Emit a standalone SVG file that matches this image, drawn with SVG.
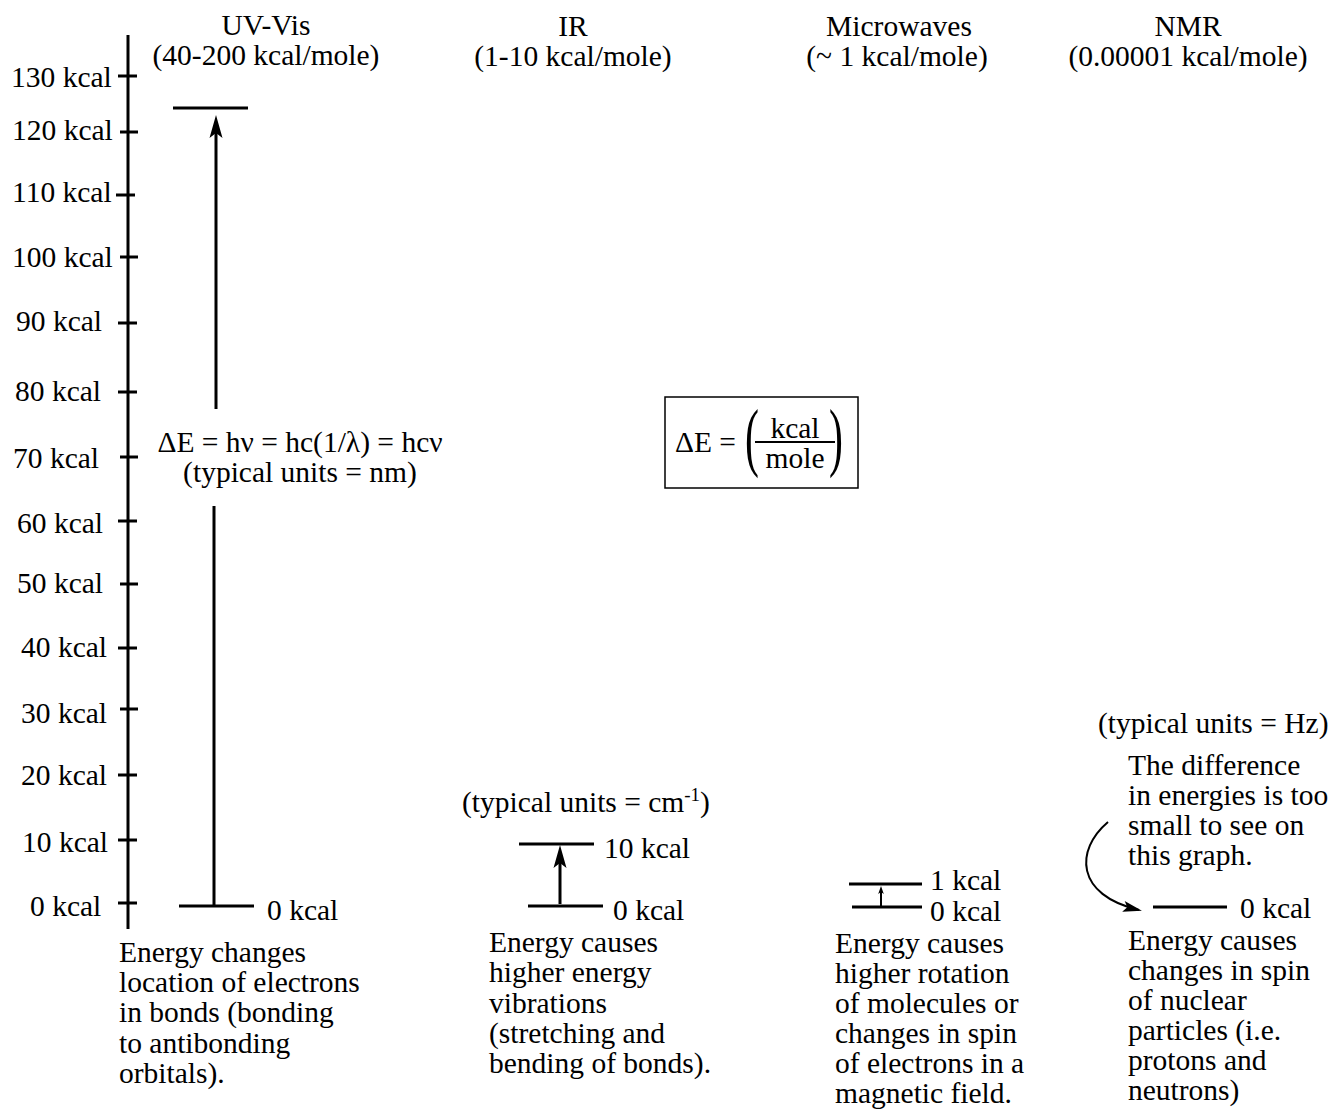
<svg xmlns="http://www.w3.org/2000/svg" width="1335" height="1114" viewBox="0 0 1335 1114">
<style>
text{font-family:"Liberation Serif","Times New Roman",serif;font-size:29.5px;fill:#000}
.m{text-anchor:middle}
.paren{font-size:76px}
.sup{font-size:19px}
.ln{stroke:#000;stroke-width:3;fill:none}
.tk{stroke:#000;stroke-width:3}
</style>
<defs>
<marker id="ah" markerUnits="userSpaceOnUse" viewBox="-24 -8 26 16" markerWidth="26" markerHeight="16" refX="-10" refY="0" orient="auto">
<path d="M0,0 L-23,-6.5 L-18,0 L-23,6.5 Z" fill="#000"/>
</marker>
<marker id="ahs" markerUnits="userSpaceOnUse" viewBox="-10 -4 12 8" markerWidth="12" markerHeight="8" refX="-3" refY="0" orient="auto">
<path d="M0,0 L-8,-2.8 L-6,0 L-8,2.8 Z" fill="#000"/>
</marker>
<marker id="ahc" markerUnits="userSpaceOnUse" viewBox="-20 -7 22 14" markerWidth="22" markerHeight="14" refX="-3" refY="0" orient="auto">
<path d="M0,0 L-19,-5.5 L-15,0 L-19,5.5 Z" fill="#000"/>
</marker>
</defs>

<g id="axis">
<line class="ln" x1="128" y1="35" x2="128" y2="929"/>
<line class="tk" x1="118" y1="76" x2="137" y2="76"/>
<line class="tk" x1="120" y1="132" x2="138" y2="132"/>
<line class="tk" x1="116" y1="195" x2="135" y2="195"/>
<line class="tk" x1="120" y1="257" x2="138" y2="257"/>
<line class="tk" x1="118" y1="323" x2="137" y2="323"/>
<line class="tk" x1="118" y1="392" x2="137" y2="392"/>
<line class="tk" x1="120" y1="457" x2="138" y2="457"/>
<line class="tk" x1="118" y1="521" x2="137" y2="521"/>
<line class="tk" x1="120" y1="584" x2="138" y2="584"/>
<line class="tk" x1="118" y1="648" x2="137" y2="648"/>
<line class="tk" x1="120" y1="709" x2="138" y2="709"/>
<line class="tk" x1="118" y1="775" x2="137" y2="775"/>
<line class="tk" x1="118" y1="840" x2="137" y2="840"/>
<line class="tk" x1="118" y1="903" x2="137" y2="903"/>
<text x="11" y="87">130 kcal</text>
<text x="12" y="140">120 kcal</text>
<text x="12" y="202">110 kcal</text>
<text x="12" y="267">100 kcal</text>
<text x="16" y="331">90 kcal</text>
<text x="15" y="401">80 kcal</text>
<text x="13" y="468">70 kcal</text>
<text x="17" y="533">60 kcal</text>
<text x="17" y="593">50 kcal</text>
<text x="21" y="657">40 kcal</text>
<text x="21" y="723">30 kcal</text>
<text x="21" y="785">20 kcal</text>
<text x="22" y="852">10 kcal</text>
<text x="30" y="916">0 kcal</text>
</g>

<g id="headers">
<text class="m" x="266" y="35">UV-Vis</text>
<text class="m" x="266" y="65">(40-200 kcal/mole)</text>
<text class="m" x="573" y="36">IR</text>
<text class="m" x="573" y="66">(1-10 kcal/mole)</text>
<text class="m" x="899" y="36">Microwaves</text>
<text class="m" x="897" y="66">(~ 1 kcal/mole)</text>
<text class="m" x="1188" y="36">NMR</text>
<text class="m" x="1188" y="66">(0.00001 kcal/mole)</text>
</g>

<g id="uvvis">
<line class="ln" x1="173" y1="108" x2="248" y2="108"/>
<line class="ln" x1="179" y1="906" x2="254" y2="906"/>
<text x="267" y="920">0 kcal</text>
<text class="m" x="300" y="452">ΔE = hν = hc(1/λ) = hcν</text>
<text class="m" x="300" y="482">(typical units = nm)</text>
<text x="119" y="962">Energy changes</text>
<text x="119" y="992">location of electrons</text>
<text x="119" y="1022">in bonds (bonding</text>
<text x="119" y="1053">to antibonding</text>
<text x="119" y="1083">orbitals).</text>
</g>

<g id="ir">
<text x="462" y="812">(typical units = cm<tspan class="sup" dy="-11">-1</tspan><tspan dy="11">)</tspan></text>
<line class="ln" x1="519" y1="844" x2="594" y2="844"/>
<line class="ln" x1="528" y1="906" x2="603" y2="906"/>
<text x="604" y="858">10 kcal</text>
<text x="613" y="920">0 kcal</text>
<text x="489" y="952">Energy causes</text>
<text x="489" y="982">higher energy</text>
<text x="489" y="1013">vibrations</text>
<text x="489" y="1043">(stretching and</text>
<text x="489" y="1073">bending of bonds).</text>
</g>

<g id="microwaves">
<line class="ln" x1="849" y1="884" x2="922" y2="884"/>
<line class="ln" x1="852" y1="907" x2="922" y2="907"/>
<text x="930" y="890">1 kcal</text>
<text x="930" y="921">0 kcal</text>
<text x="835" y="953">Energy causes</text>
<text x="835" y="983">higher rotation</text>
<text x="835" y="1013">of molecules or</text>
<text x="835" y="1043">changes in spin</text>
<text x="835" y="1073">of electrons in a</text>
<text x="835" y="1103">magnetic field.</text>
</g>

<g id="nmr">
<text x="1098" y="733">(typical units = Hz)</text>
<text x="1128" y="775">The difference</text>
<text x="1128" y="805">in energies is too</text>
<text x="1128" y="835">small to see on</text>
<text x="1128" y="865">this graph.</text>
<line class="ln" x1="1153" y1="907" x2="1227" y2="907"/>
<text x="1240" y="918">0 kcal</text>
<text x="1128" y="950">Energy causes</text>
<text x="1128" y="980">changes in spin</text>
<text x="1128" y="1010">of nuclear</text>
<text x="1128" y="1040">particles (i.e.</text>
<text x="1128" y="1070">protons and</text>
<text x="1128" y="1100">neutrons)</text>
</g>

<g id="formula-box">
<rect x="665" y="397" width="193" height="91" fill="none" stroke="#000" stroke-width="1.5"/>
<text x="675" y="452">ΔE =</text>
<text class="paren" x="745" y="462" transform="translate(745 0) scale(0.55 1) translate(-745 0)">(</text>
<text class="paren" x="829" y="462" transform="translate(829 0) scale(0.55 1) translate(-829 0)">)</text>
<line x1="755" y1="442" x2="835" y2="442" stroke="#000" stroke-width="2"/>
<text class="m" x="795" y="438">kcal</text>
<text class="m" x="795" y="468">mole</text>
</g>

<g id="connectors">
<line class="ln" x1="216" y1="409" x2="216" y2="125" marker-end="url(#ah)"/>
<line class="ln" x1="214" y1="506" x2="214" y2="906"/>
<line class="ln" x1="560" y1="904" x2="560" y2="855" marker-end="url(#ah)"/>
<line x1="881" y1="906" x2="881" y2="889" stroke="#000" stroke-width="2" marker-end="url(#ahs)"/>
<path d="M1108,822 C1075,850 1075,895 1139,910" fill="none" stroke="#000" stroke-width="2" marker-end="url(#ahc)"/>
</g>
</svg>
